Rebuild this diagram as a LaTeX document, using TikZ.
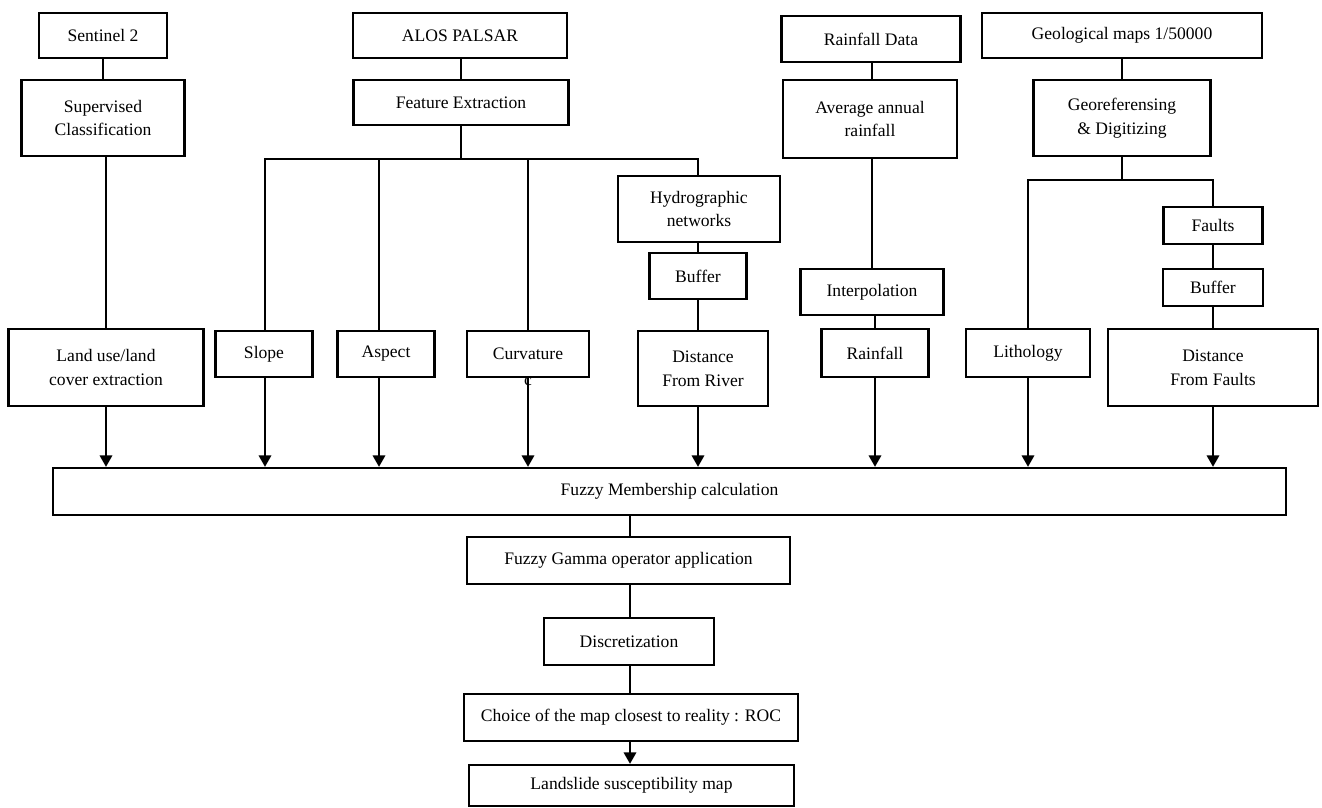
\documentclass[tikz,border=0pt]{standalone}
\usepackage{fontspec}
\setmainfont{Liberation Serif}
\usetikzlibrary{arrows.meta}
\begin{document}
\begin{tikzpicture}[x=0.02cm, y=-0.02cm, line width=1.3pt,
  box/.style={draw, line width=1.3pt, inner sep=0pt, align=center, font=\fontsize{10}{13.6}\selectfont},
  arr/.style={-{Triangle[width=7pt,length=6.5pt]}}]
\useasboundingbox (0,0) rectangle (1322,808);
\node [box, minimum width=2.56cm, minimum height=0.9cm] (sent) at (103,35.5) {Sentinel 2};
\node [box, minimum width=3.26cm, minimum height=1.52cm] (superv) at (103,118) {Supervised\\Classification};
\node [box, minimum width=4.28cm, minimum height=0.9cm] (alos) at (460,35.5) {ALOS PALSAR};
\node [box, minimum width=4.30cm, minimum height=0.9cm] (feat) at (461,102.5) {Feature Extraction};
\node [box, minimum width=3.58cm, minimum height=0.92cm] (rdata) at (871,39) {Rainfall Data};
\node [box, minimum width=3.48cm, minimum height=1.56cm] (avg) at (870,119) {Average annual\\rainfall};
\node [box, minimum width=5.6cm, minimum height=0.9cm] (geol) at (1122,35.5) {Geological maps 1/50000};
\node [box, minimum width=3.54cm, minimum height=1.52cm] (geor) at (1122,118) {Georeferensing\\\& Digitizing};
\node [box, minimum width=3.24cm, minimum height=1.32cm] (hydro) at (699,209) {Hydrographic\\networks};
\node [box, minimum width=1.94cm, minimum height=0.92cm] (bufr) at (698,276) {Buffer};
\node [box, minimum width=2.86cm, minimum height=0.92cm] (interp) at (872,292) {Interpolation};
\node [box, minimum width=1.98cm, minimum height=0.74cm] (faults) at (1213,225.5) {Faults};
\node [box, minimum width=2.0cm, minimum height=0.74cm] (buff) at (1213,287.5) {Buffer};
\node [box, minimum width=3.9cm, minimum height=1.54cm] (landuse) at (106,367.5) {Land use/land\\cover extraction};
\node [box, minimum width=1.94cm, minimum height=0.92cm] (slope) at (264,354) {Slope};
\node [box, minimum width=1.94cm, minimum height=0.92cm] (aspect) at (386,354) {Aspect};
\node [box, minimum width=2.44cm, minimum height=0.92cm] (curv) at (528,354) {Curvature};
\node [font=\fontsize{10}{12}\selectfont, inner sep=0pt] (cmark) at (528,381) {c};
\node [box, minimum width=2.6cm, minimum height=1.5cm] (driver) at (703,368.5) {Distance\\From River};
\node [box, minimum width=2.14cm, minimum height=0.96cm] (rain) at (875,353) {Rainfall};
\node [box, minimum width=2.48cm, minimum height=0.96cm] (litho) at (1028,353) {Lithology};
\node [box, minimum width=4.2cm, minimum height=1.54cm] (dfault) at (1213,367.5) {Distance\\From Faults};
\node [box, minimum width=24.66cm, minimum height=0.94cm] (fuzzy) at (669.5,491.5) {Fuzzy Membership calculation};
\node [box, minimum width=6.46cm, minimum height=0.94cm] (gamma) at (628.5,560.5) {Fuzzy Gamma operator application};
\node [box, minimum width=3.4cm, minimum height=0.94cm] (discr) at (629,641.5) {Discretization};
\node [box, minimum width=6.68cm, minimum height=0.94cm] (choice) at (631,717.5) {Choice of the map closest to reality : ROC};
\node [box, minimum width=6.5cm, minimum height=0.82cm] (lsm) at (631.5,785.5) {Landslide susceptibility map};
\coordinate (ja) at (265,159);
\coordinate (jb) at (379,159);
\coordinate (jc) at (528,159);
\coordinate (jd) at (698,159);
\coordinate (ge) at (1028,180);
\coordinate (gf) at (1213,180);
\coordinate (sp) at (630,515);
\draw (sent) -- (superv);
\draw (superv.south -| landuse) -- (landuse.north);
\draw (alos.south -| feat) -- (feat.north);
\draw (feat) -- (feat |- ja);
\draw (ja |- slope.north) -- (ja) -- (jd) -- (jd |- hydro.north);
\draw (jb) -- (jb |- aspect.north);
\draw (jc) -- (curv.north);
\draw (jd |- hydro.south) -- (jd |- bufr.north);
\draw (jd |- bufr.south) -- (jd |- driver.north);
\draw (rdata.south -| interp) -- (interp |- avg.north);
\draw (avg.south -| interp) -- (interp.north);
\draw (interp.south -| rain) -- (rain.north);
\draw (geol) -- (geor);
\draw (geor) -- (geor |- ge);
\draw (ge |- litho.north) -- (ge) -- (gf) -- (gf |- faults.north);
\draw (gf |- faults.south) -- (gf |- buff.north);
\draw (gf |- buff.south) -- (gf |- dfault.north);
\draw [arr] (landuse.south) -- (landuse.south |- fuzzy.north);
\draw [arr] (ja |- slope.south) -- (ja |- fuzzy.north);
\draw [arr] (jb |- aspect.south) -- (jb |- fuzzy.north);
\draw [arr] (curv.south) -- (curv.south |- fuzzy.north);
\draw [arr] (jd |- driver.south) -- (jd |- fuzzy.north);
\draw [arr] (rain.south) -- (rain.south |- fuzzy.north);
\draw [arr] (ge |- litho.south) -- (ge |- fuzzy.north);
\draw [arr] (gf |- dfault.south) -- (gf |- fuzzy.north);
\draw (sp) -- (sp |- gamma.north);
\draw (sp |- gamma.south) -- (sp |- discr.north);
\draw (sp |- discr.south) -- (sp |- choice.north);
\draw [arr] (sp |- choice.south) -- (sp |- lsm.north);
\end{tikzpicture}
\end{document}
